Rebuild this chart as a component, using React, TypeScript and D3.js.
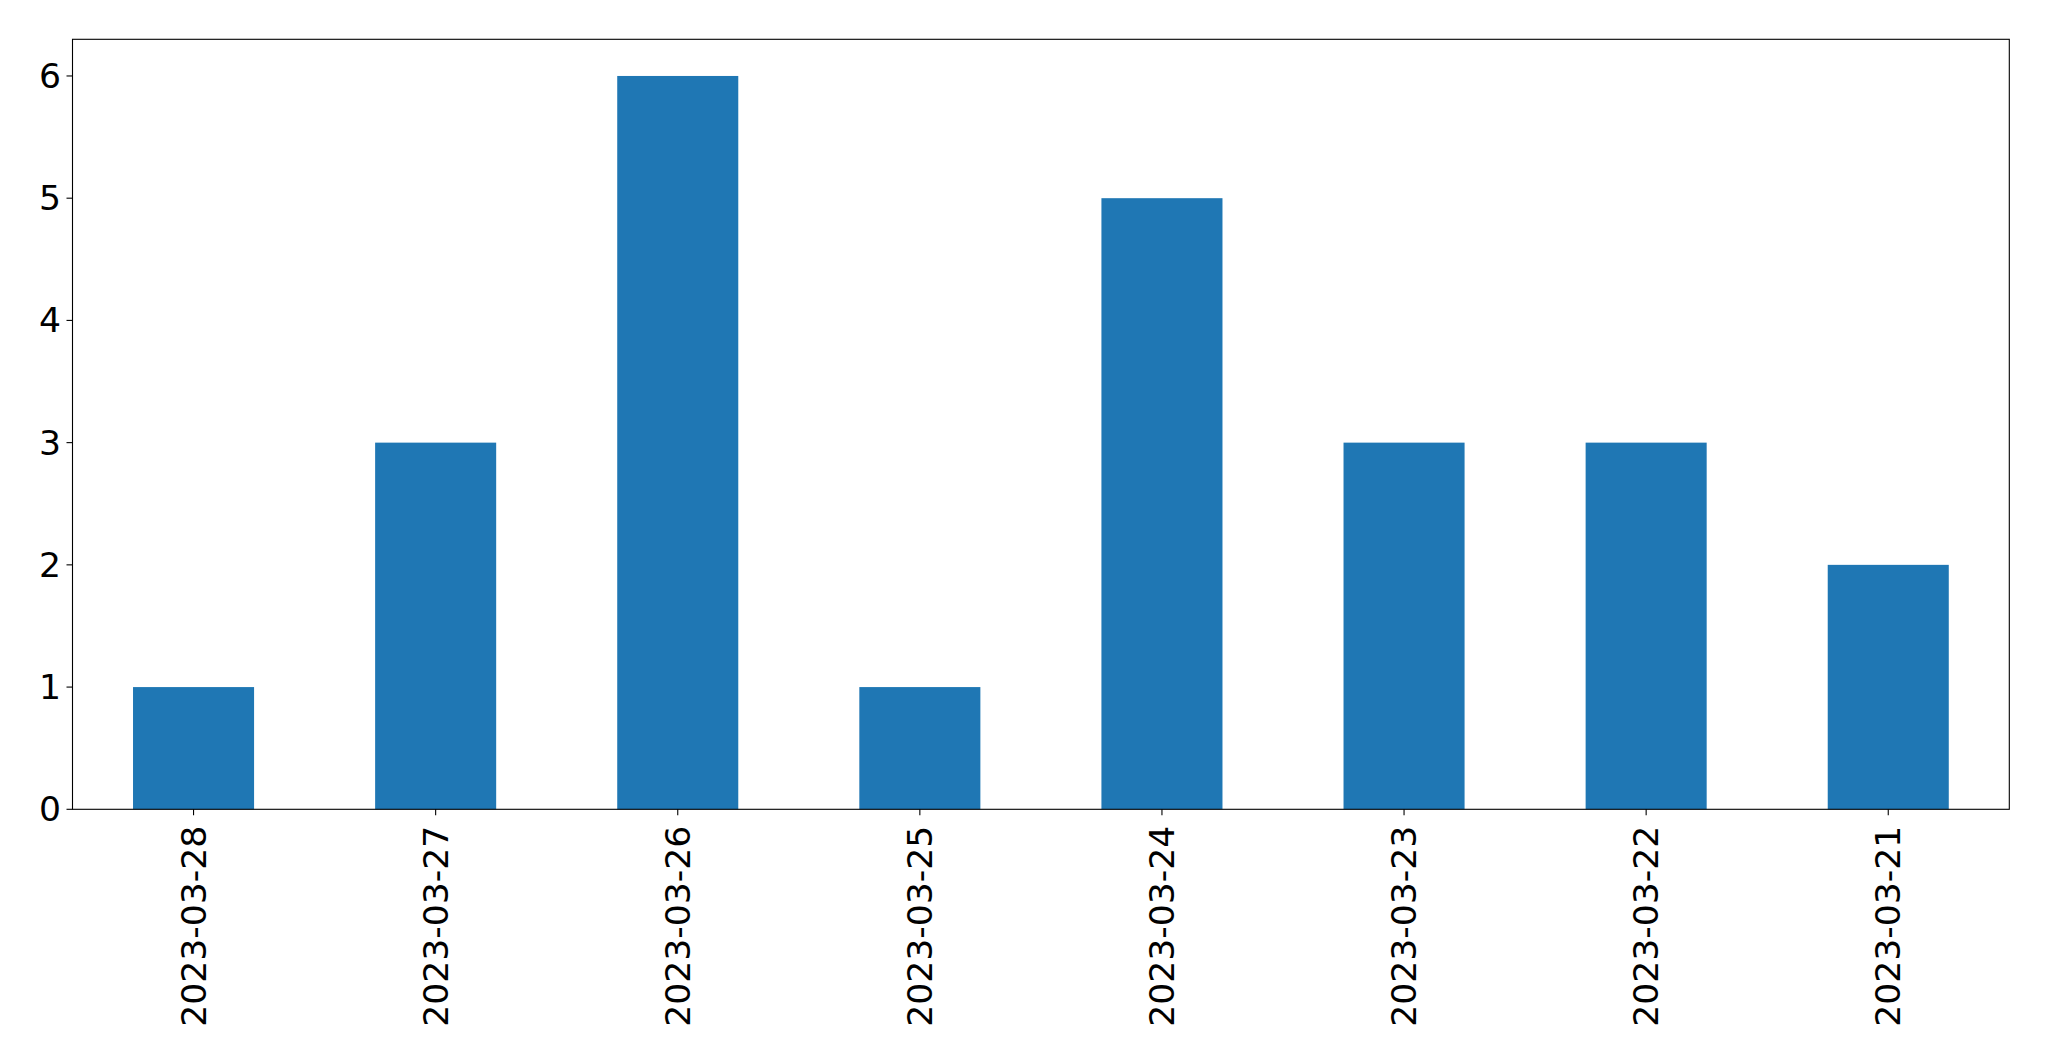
import React from "react";
import * as d3 from "d3";

const categories = ["2023-03-28", "2023-03-27", "2023-03-26", "2023-03-25", "2023-03-24", "2023-03-23", "2023-03-22", "2023-03-21"];
const values = [1, 3, 6, 1, 5, 3, 3, 2];
const yTicks = [0, 1, 2, 3, 4, 5, 6];

const W = 2049;
const H = 1061;
const M = { left: 72.5, right: 2009.3, top: 39.3, bottom: 809.3 };

export default function App() {
  const x = d3.scaleLinear().domain([-0.5, categories.length - 0.5]).range([M.left, M.right]);
  const y = d3.scaleLinear().domain([0, 6.3]).range([M.bottom, M.top]);
  const font = "DejaVu Sans";
  const fs = 34.6;
  return (
    <svg width={W} height={H} style={{ position: "absolute", left: 0, top: 0, background: "#fff" }} fontFamily={font}>
      <rect x={0} y={0} width={W} height={H} fill="#fff" />
      {values.map((v, i) => (
        <rect key={i} x={x(i - 0.25)} y={y(v)} width={x(i + 0.25) - x(i - 0.25)} height={y(0) - y(v)} fill="#1f77b4" />
      ))}
      <rect x={M.left} y={M.top} width={M.right - M.left} height={M.bottom - M.top} fill="none" stroke="#000" strokeWidth={1.1} />
      {yTicks.map((t) => (
        <g key={t}>
          <line x1={M.left - 6} x2={M.left} y1={y(t)} y2={y(t)} stroke="#000" strokeWidth={1.1} />
          <text x={M.left - 11.5} y={y(t)} fontSize={fs} textAnchor="end" dominantBaseline="central" fill="#000">{t}</text>
        </g>
      ))}
      {categories.map((c, i) => (
        <g key={c}>
          <line x1={x(i)} x2={x(i)} y1={M.bottom} y2={M.bottom + 6} stroke="#000" strokeWidth={1.1} />
          <text transform={`translate(${x(i)},${M.bottom + 16.5}) rotate(-90)`} fontSize={fs} textAnchor="end" dominantBaseline="central" fill="#000">{c}</text>
        </g>
      ))}
    </svg>
  );
}
